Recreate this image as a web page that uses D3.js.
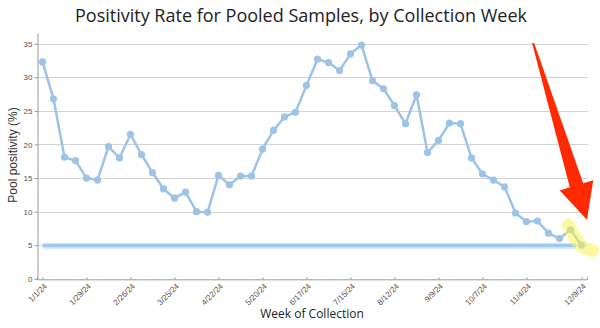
<!DOCTYPE html>
<html>
<head>
<meta charset="utf-8">
<script src="https://cdn.jsdelivr.net/npm/d3@7"></script>
<style>
  html, body { margin: 0; padding: 0; background: #fff; }
  svg { display: block; }
</style>
</head>
<body>
<svg id="chart" width="600" height="328"></svg>
<script>
// Weekly pool positivity (%), one value per collection week starting 1/1/24
const positivity = [
  32.3, 26.8, 18.1, 17.6, 15.0, 14.7, 19.7, 18.0, 21.5, 18.5,
  15.8, 13.4, 12.0, 12.9, 10.0, 9.9, 15.4, 14.0, 15.3, 15.3,
  19.3, 22.1, 24.1, 24.8, 28.8, 32.7, 32.2, 31.0, 33.5, 34.8,
  29.5, 28.3, 25.8, 23.1, 27.4, 18.8, 20.6, 23.2, 23.1, 18.0,
  15.6, 14.7, 13.7, 9.8, 8.5, 8.6, 6.8, 6.0, 7.3, 5.0
];

// Labelled weeks (index into the series) and their date labels
const tickWeeks = [0, 4, 8, 12, 16, 20, 24, 28, 32, 36, 40, 44, 49];
const tickLabels = ["1/1/24", "1/29/24", "2/26/24", "3/25/24", "4/22/24", "5/20/24",
  "6/17/24", "7/15/24", "8/12/24", "9/9/24", "10/7/24", "11/4/24", "12/9/24"];

const yTicks = [0, 5, 10, 15, 20, 25, 30, 35];

// Reference level drawn as a flat bar
const threshold = 5;
const thresholdWeeks = [0, 48.5];

const svg = d3.select("#chart");

const x = d3.scaleLinear().domain([-0.5, 49.5]).range([37, 587]);
const y = d3.scaleLinear().domain([0, 36.6]).range([278.8, 33]);

// Gridlines
svg.append("g")
  .selectAll("line")
  .data(yTicks.filter(d => d > 0))
  .join("line")
  .attr("x1", x(-0.5)).attr("x2", x(49.5) + 1)
  .attr("y1", d => Math.round(y(d)) + 0.5).attr("y2", d => Math.round(y(d)) + 0.5)
  .attr("stroke", "#d3d3d3").attr("stroke-width", 1);

// Y axis
const yAxis = svg.append("g")
  .attr("transform", `translate(${x(-0.5) + 0.5},0)`)
  .call(d3.axisLeft(y).tickValues(yTicks).tickSize(3).tickPadding(2).tickSizeOuter(0));
yAxis.select(".domain").attr("stroke", "#999");
yAxis.selectAll(".tick line").attr("stroke", "#999");
yAxis.selectAll(".tick text")
  .attr("font-family", "'Liberation Sans', Arial, sans-serif")
  .attr("font-size", 8).attr("fill", "#555");

// X axis
const xAxis = svg.append("g")
  .attr("transform", `translate(0,${y(0) + 0.5})`)
  .call(d3.axisTop(x).tickValues(tickWeeks).tickSize(2).tickSizeOuter(2).tickFormat(""));
xAxis.select(".domain").attr("stroke", "#999");
xAxis.selectAll(".tick line").attr("stroke", "#999");

svg.append("g")
  .selectAll("text")
  .data(tickWeeks)
  .join("text")
  .attr("transform", d => `translate(${x(d) + 3},${y(0) + 6}) rotate(-45)`)
  .attr("text-anchor", "end")
  .attr("dy", "0.35em")
  .attr("font-family", "'Liberation Sans', Arial, sans-serif")
  .attr("font-size", 8).attr("fill", "#555")
  .text((d, i) => tickLabels[i]);

// Threshold bar at 5%
svg.append("line")
  .attr("x1", x(thresholdWeeks[0])).attr("x2", x(thresholdWeeks[1]))
  .attr("y1", y(threshold) + 2.5).attr("y2", y(threshold) + 2.5)
  .attr("stroke", "#cfe5fb").attr("stroke-width", 2);
svg.append("line")
  .attr("x1", x(thresholdWeeks[0])).attr("x2", x(thresholdWeeks[1]))
  .attr("y1", y(threshold)).attr("y2", y(threshold))
  .attr("stroke", "#9fc9f3").attr("stroke-width", 3.5);

// Positivity series
const line = d3.line().x((d, i) => x(i)).y(d => y(d));
svg.append("path")
  .datum(positivity)
  .attr("d", line)
  .attr("fill", "none")
  .attr("stroke", "#9dc3e6").attr("stroke-width", 2.5)
  .attr("stroke-linejoin", "round");
svg.append("g")
  .selectAll("circle")
  .data(positivity)
  .join("circle")
  .attr("cx", (d, i) => x(i)).attr("cy", d => y(d))
  .attr("r", 3.6).attr("fill", "#9dc3e6");

// Highlighter stroke over the latest weeks
const hl = [[47.8, 8.0], [49, 4.9], [50, 4.2]];
svg.append("path")
  .attr("d", d3.line().curve(d3.curveCatmullRom).x(d => x(d[0])).y(d => y(d[1]))(hl))
  .attr("fill", "none")
  .attr("stroke", "rgba(247, 242, 80, 0.55)")
  .attr("stroke-width", 13)
  .attr("stroke-linecap", "round");

// Red arrow pointing at the latest value
(function drawArrow() {
  const S = [x(44.6), y(35.1)], T = [x(49.5), y(8.8)];
  const dx = T[0] - S[0], dy = T[1] - S[1], L = Math.hypot(dx, dy);
  const d = [dx / L, dy / L], n = [-d[1], d[0]];
  const head = 36, headHalf = 17.5, shaftTop = 1, shaftBase = 7;
  const B = [T[0] - d[0] * head, T[1] - d[1] * head];
  const p = (P, k) => [P[0] + n[0] * k, P[1] + n[1] * k];
  const pts = [p(S, -shaftTop), p(B, -shaftBase), p(B, -headHalf), T,
               p(B, headHalf), p(B, shaftBase), p(S, shaftTop)];
  svg.append("path")
    .attr("d", "M" + pts.map(q => q.join(",")).join("L") + "Z")
    .attr("fill", "#ff2a00");
})();

// Titles
svg.append("text")
  .attr("x", 301).attr("y", 22)
  .attr("text-anchor", "middle")
  .attr("font-family", "'Open Sans', sans-serif")
  .attr("font-size", 18).attr("fill", "#222")
  .text("Positivity Rate for Pooled Samples, by Collection Week");

svg.append("text")
  .attr("x", 312).attr("y", 318)
  .attr("text-anchor", "middle")
  .attr("font-family", "'Open Sans', sans-serif")
  .attr("font-size", 12).attr("fill", "#222")
  .text("Week of Collection");

svg.append("text")
  .attr("transform", `translate(17,155) rotate(-90)`)
  .attr("text-anchor", "middle")
  .attr("font-family", "'Liberation Sans', Arial, sans-serif")
  .attr("font-size", 12).attr("fill", "#333")
  .text("Pool positivity (%)");
</script>
</body>
</html>
